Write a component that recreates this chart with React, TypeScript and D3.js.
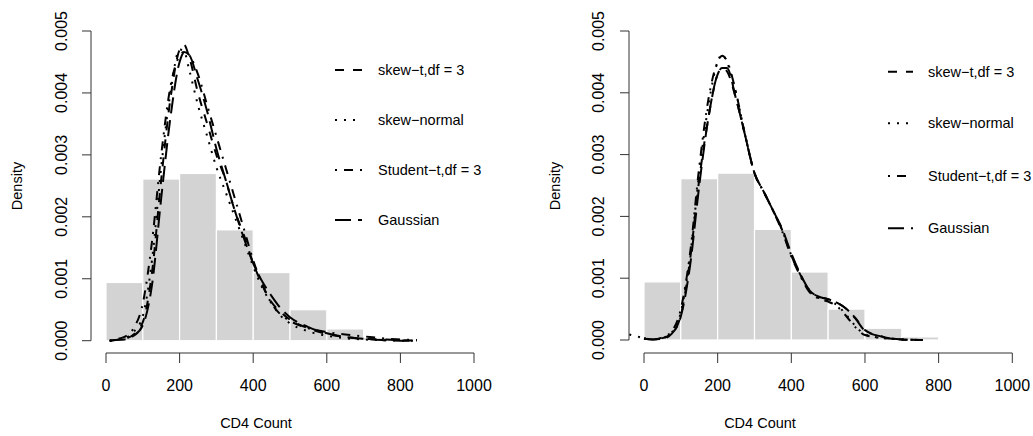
import React from "react";
import * as d3 from "d3";

// Histogram (CD4 count, density scale)
const binEdges = [0, 100, 200, 300, 400, 500, 600, 700, 800];
const binDensity = [0.00094, 0.00261, 0.0027, 0.00179, 0.0011, 0.0005, 0.00019, 0.00005];

const xTicks = [0, 200, 400, 600, 800, 1000];
const yTicks = [0, 0.001, 0.002, 0.003, 0.004, 0.005];
const yTickLabels = ["0.000", "0.001", "0.002", "0.003", "0.004", "0.005"];

const legendLabels = ["skew\u2212t,df = 3", "skew\u2212normal", "Student\u2212t,df = 3", "Gaussian"];

// Left panel fitted densities
const leftGrid = [10, 25, 50, 75, 100, 125, 150, 175, 200, 212, 225, 250, 275, 300, 325, 350, 375, 400, 425, 450, 475, 500, 550, 600, 650, 700, 750, 800, 845];
const leftSkewT = [0, 0.00001, 0.00003, 0.0001, 0.0003, 0.0011, 0.0026, 0.0039, 0.0047, 0.00478, 0.0046, 0.004, 0.0035, 0.003, 0.0026, 0.0021, 0.0017, 0.00125, 0.0009, 0.00062, 0.00046, 0.00034, 0.0002, 0.00011, 0.00006, 0.00003, 0.00002, 0.00001, 0];
const leftSkewNormal = [0, 0.00001, 0.00004, 0.00014, 0.0004, 0.0013, 0.0028, 0.004, 0.0047, 0.00468, 0.0044, 0.0038, 0.0033, 0.0028, 0.0024, 0.002, 0.0016, 0.0012, 0.00085, 0.0006, 0.0004, 0.00028, 0.00015, 0.00008, 0.00004, 0.00002, 0.00001, 0, 0];
const leftStudentT = [0, 0.00002, 0.00006, 0.0002, 0.0006, 0.0016, 0.003, 0.0041, 0.0046, 0.00466, 0.00462, 0.0043, 0.0038, 0.0033, 0.0028, 0.0023, 0.0018, 0.0013, 0.0009, 0.0006, 0.00042, 0.00032, 0.0002, 0.00014, 0.0001, 0.00007, 0.00004, 0.00002, 0.00001];
const leftGaussian = [0, 0.00001, 0.00002, 0.00008, 0.00025, 0.0009, 0.0023, 0.0036, 0.0045, 0.00465, 0.00462, 0.0042, 0.0037, 0.0031, 0.0026, 0.0021, 0.00165, 0.00125, 0.00095, 0.00072, 0.00052, 0.00038, 0.00022, 0.00012, 0.00006, 0.00003, 0.00001, 0, 0];

// Right panel fitted densities
const rightGrid = [-40, -20, 0, 25, 50, 75, 100, 125, 150, 175, 200, 212, 225, 250, 275, 300, 325, 350, 375, 400, 425, 450, 475, 500, 525, 550, 575, 600, 650, 700, 757];
const rightSkewT = [null, null, 0.00002, 0.00001, 0.00003, 0.00011, 0.0004, 0.0013, 0.0026, 0.0036, 0.0043, 0.0044, 0.00435, 0.0039, 0.0033, 0.0027, 0.0024, 0.0021, 0.00178, 0.00137, 0.00105, 0.0008, 0.0007, 0.00066, 0.0006, 0.0005, 0.00035, 0.00016, 0.00005, 0.00001, 0];
const rightSkewNormal = [0.00009, 0.00006, 0.00003, 0.00001, 0.00003, 0.00012, 0.00045, 0.00135, 0.0027, 0.0038, 0.0045, 0.00462, 0.0045, 0.004, 0.0033, 0.0027, 0.0024, 0.0021, 0.00178, 0.00137, 0.00105, 0.00078, 0.00068, 0.00064, 0.00056, 0.0004, 0.00022, 0.00009, 0.00003, 0.00001, 0];
const rightStudentT = [null, null, 0.00003, 0.00001, 0.00004, 0.00014, 0.0005, 0.0014, 0.0028, 0.0039, 0.0045, 0.0046, 0.00452, 0.004, 0.0033, 0.0027, 0.0024, 0.0021, 0.00176, 0.00135, 0.00103, 0.00077, 0.00067, 0.00062, 0.00054, 0.00038, 0.0002, 0.00008, 0.00003, 0.00001, 0];
const rightGaussian = [null, null, 0.00002, 0.00001, 0.00002, 0.0001, 0.00038, 0.0012, 0.0025, 0.0036, 0.0043, 0.0044, 0.0044, 0.0039, 0.0033, 0.0027, 0.0024, 0.0021, 0.0018, 0.0014, 0.00106, 0.0008, 0.0007, 0.00066, 0.0006, 0.0005, 0.00034, 0.00015, 0.00005, 0.00001, 0];

const dashes = ["9,9", "2,7", "2,7,9,7", "16,7"];

type PanelCfg = {
  xRange: [number, number];
  yRange: [number, number];
  grid: number[];
  series: (number | null)[][];
  legendLine: [number, number];
  legendText: number;
  legendRows: number[];
  yLabelX: number;
  densityX: number;
  titleX: number;
};

const FONT = "Liberation Sans, Arial, Helvetica, sans-serif";

function Panel({ cfg }: { cfg: PanelCfg }) {
  const x = d3.scaleLinear().domain([0, 1000]).range(cfg.xRange);
  const y = d3.scaleLinear().domain([0, 0.005]).range(cfg.yRange);
  const line = d3
    .line<[number, number | null]>()
    .defined((d) => d[1] !== null)
    .x((d) => x(d[0]))
    .y((d) => y(d[1] as number))
    .curve(d3.curveMonotoneX);
  const axisColor = "#333";
  const xAxisY = 353;
  return (
    <g>
      {binDensity.map((v, i) => (
        <rect
          key={i}
          x={x(binEdges[i])}
          y={y(v)}
          width={x(binEdges[i + 1]) - x(binEdges[i])}
          height={y(0) - y(v)}
          fill="#d3d3d3"
          stroke="#fff"
          strokeWidth={1.2}
        />
      ))}
      {cfg.series.map((s, i) => (
        <path
          key={i}
          d={line(cfg.grid.map((g, j) => [g, s[j]] as [number, number | null])) || ""}
          fill="none"
          stroke="#000"
          strokeWidth={2}
          strokeDasharray={dashes[i]}
        />
      ))}
      {/* x axis */}
      <line x1={x(0)} x2={x(1000)} y1={xAxisY} y2={xAxisY} stroke={axisColor} />
      {xTicks.map((t) => (
        <g key={t}>
          <line x1={x(t)} x2={x(t)} y1={xAxisY} y2={xAxisY + 10} stroke={axisColor} />
          <text x={x(t)} y={391} textAnchor="middle" fontSize={16} fontFamily={FONT}>
            {t}
          </text>
        </g>
      ))}
      {/* y axis */}
      <line x1={cfg.xRange[0] - 15} x2={cfg.xRange[0] - 15} y1={y(0)} y2={y(0.005)} stroke={axisColor} />
      {yTicks.map((t, i) => (
        <g key={t}>
          <line x1={cfg.xRange[0] - 15} x2={cfg.xRange[0] - 24} y1={y(t)} y2={y(t)} stroke={axisColor} />
          <text
            transform={`translate(${cfg.yLabelX},${y(t)}) rotate(-90)`}
            textAnchor="middle"
            fontSize={16}
            fontFamily={FONT}
          >
            {yTickLabels[i]}
          </text>
        </g>
      ))}
      <text
        transform={`translate(${cfg.densityX},186) rotate(-90)`}
        textAnchor="middle"
        fontSize={14.5}
        fontFamily={FONT}
      >
        Density
      </text>
      <text x={cfg.titleX} y={428} textAnchor="middle" fontSize={14.5} fontFamily={FONT}>
        CD4 Count
      </text>
      {legendLabels.map((lab, i) => (
        <g key={lab}>
          <line
            x1={cfg.legendLine[0]}
            x2={cfg.legendLine[1]}
            y1={cfg.legendRows[i]}
            y2={cfg.legendRows[i]}
            stroke="#000"
            strokeWidth={2}
            strokeDasharray={dashes[i]}
          />
          <text x={cfg.legendText} y={cfg.legendRows[i] + 5} fontSize={14.5} fontFamily={FONT}>
            {lab}
          </text>
        </g>
      ))}
    </g>
  );
}

const leftCfg: PanelCfg = {
  xRange: [106, 474],
  yRange: [340.7, 31],
  grid: leftGrid,
  series: [leftSkewT, leftSkewNormal, leftStudentT, leftGaussian],
  legendLine: [335, 362],
  legendText: 378,
  legendRows: [70, 120, 170, 220],
  yLabelX: 66.5,
  densityX: 22,
  titleX: 256,
};

const rightCfg: PanelCfg = {
  xRange: [644, 1012.3],
  yRange: [340, 31],
  grid: rightGrid,
  series: [rightSkewT, rightSkewNormal, rightStudentT, rightGaussian],
  legendLine: [888, 913],
  legendText: 928,
  legendRows: [71.7, 123.3, 176, 228.3],
  yLabelX: 604,
  densityX: 560,
  titleX: 760,
};

export default function App() {
  return (
    <svg
      width={1033}
      height={436}
      style={{ position: "absolute", left: 0, top: 0, background: "#fff" }}
    >
      <rect width={1033} height={436} fill="#fff" />
      <Panel cfg={leftCfg} />
      <Panel cfg={rightCfg} />
    </svg>
  );
}
